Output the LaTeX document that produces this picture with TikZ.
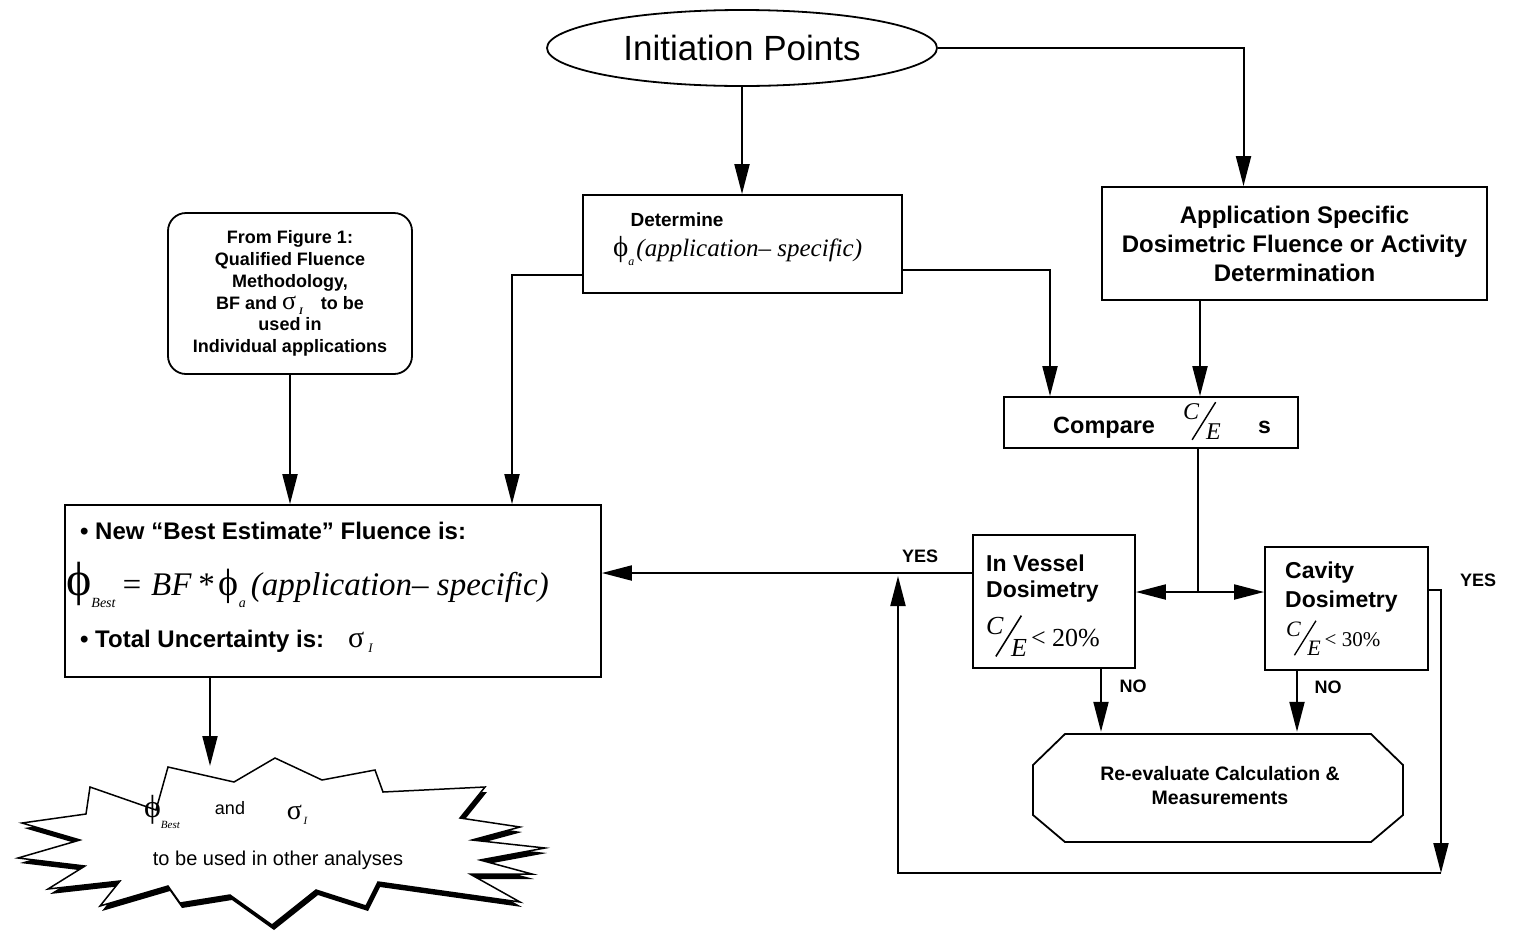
\documentclass[tikz,border=0pt]{standalone}
\usepackage{fontspec}
\setmainfont{Liberation Sans}
\newfontfamily\serif{Liberation Serif}
\usetikzlibrary{arrows.meta,shapes.geometric,calc}
\newcommand{\fs}[1]{\fontsize{#1}{#1}\selectfont}
\newcommand{\fsb}[2]{\fontsize{#1}{#2}\selectfont}
\newcommand{\CEfrac}[1]{{\serif\itshape\fs{#1}\raisebox{0.45em}{C}\kern-0.32em\raisebox{-0.4em}{\rotatebox{58}{\rule{1.85em}{0.06em}}}\kern-0.42em\raisebox{-0.38em}{E}}}
\newcommand{\phis}{{\serif\upshape ϕ}}
\begin{document}
\begin{tikzpicture}[x=1pt,y=-1pt,
  box/.style={draw,line width=1.8pt,inner sep=0pt},
  txt/.style={inner sep=0pt,font=\bfseries\fs{23}},
  lbl/.style={inner sep=0pt,font=\bfseries\fs{18}},
  arr/.style={line width=2pt,-{Triangle[length=30pt,width=15pt]}},
  ln/.style={line width=2pt}]
\useasboundingbox (0,0) rectangle (1513,930);

% ---- nodes ----
\node[box,ellipse,minimum width=390pt,minimum height=76pt,font=\fs{35}] (init) at (742,48) {Initiation Points};

\node[box,minimum width=319pt,minimum height=98pt] (det) at (742.5,244) {};
\node[txt,font=\bfseries\fs{19}] (detT) at (677,220) {Determine};
\node[inner sep=0pt,anchor=west] (detF) at (613,251) {{\fs{29}\phis}{\serif\itshape\fs{12}\raisebox{-0.7em}{a}}\kern2pt{\serif\itshape\fs{25}(application– specific)}};

\node[box,minimum width=385pt,minimum height=113pt,align=center,font=\bfseries\fsb{24}{29}] (app) at (1294.5,243.5)
  {Application Specific\\Dosimetric Fluence or Activity\\Determination};

\node[box,rounded corners=18pt,minimum width=244pt,minimum height=161pt,align=center,font=\bfseries\fsb{18}{21.8}] (fig) at (290,293.5)
  {From Figure 1:\\Qualified Fluence\\Methodology,\\BF and {\mdseries\serif\fs{26}σ}\,{\serif\itshape\fs{10}\raisebox{-0.5em}{I}}\quad to be\\used in\\Individual applications};

\node[box,minimum width=294pt,minimum height=51pt] (cmp) at (1151,422.5) {};
\node[txt,anchor=west,font=\bfseries\fs{23.5}] (cmpT) at (1053,428) {Compare};
\node[inner sep=0pt] (cmpF) at (1202,421) {\CEfrac{24}};
\node[txt,anchor=west] (cmpS) at (1258,427) {s};

\node[box,minimum width=536pt,minimum height=172pt] (best) at (333,591) {};
\node[txt,anchor=west,font=\bfseries\fs{24}] (b1) at (80,531) {• New “Best Estimate” Fluence is:};
\node[inner sep=0pt,anchor=west] (b2) at (66,585) {{\fs{48}\phis}{\serif\itshape\fs{14}\raisebox{-0.9em}{Best}}\kern5pt{\serif\itshape\fs{33}= BF\,*\,}{\fs{38}\phis}{\serif\itshape\fs{14}\raisebox{-0.9em}{a}}\kern5pt{\serif\itshape\fs{33}(application– specific)}};
\node[txt,anchor=west,font=\bfseries\fs{24}] (b3) at (80,641) {• Total Uncertainty is:\quad{\mdseries\serif\fs{30}σ}\,{\serif\itshape\mdseries\fs{13}\raisebox{-0.4em}{I}}};

\node[box,minimum width=162pt,minimum height=133pt] (ves) at (1054,601.5) {};
\node[txt,anchor=west] (v1) at (986,563) {In Vessel};
\node[txt,anchor=west] (v2) at (986,592) {Dosimetry};
\node[inner sep=0pt,anchor=west] (v3) at (986,636) {\CEfrac{26}\kern4pt{\serif\fs{26}< 20\%}};

\node[box,minimum width=163pt,minimum height=123pt] (cav) at (1346.5,608.5) {};
\node[txt,anchor=west] (c1) at (1285,573) {Cavity};
\node[txt,anchor=west] (c2) at (1285,602) {Dosimetry};
\node[inner sep=0pt,anchor=west] (c3) at (1286,638) {\CEfrac{22}\kern4pt{\serif\fs{21}< 30\%}};

% re-evaluate octagon
\draw[line width=1.8pt] (1065,734) -- (1371,734) -- (1403,765) -- (1403,815) -- (1371,842)
  -- (1065,842) -- (1033,815) -- (1033,765) -- cycle;
\node[inner sep=0pt,minimum width=370pt,minimum height=108pt,align=center,font=\bfseries\fsb{19.5}{24}] (reev) at (1220,786)
  {Re-evaluate Calculation \&\\Measurements};

% starburst
\def\burst{(168,767) -- (234,782) -- (275,758) -- (322,780) -- (375,770) -- (383,792) -- (485,787)
  -- (460,818) -- (520,827) -- (472,840) -- (545,848) -- (480,860) -- (532,874) -- (470,874)
  -- (520,902) -- (378,882) -- (366,906) -- (316,890) -- (272,925) -- (230,895) -- (180,903)
  -- (168,886) -- (100,906) -- (120,881) -- (48,889) -- (85,866) -- (18,858) -- (80,840)
  -- (22,823) -- (86,814) -- (90,787) -- (156,810) -- cycle}
\fill[black,shift={(2,5)}] \burst;
\filldraw[fill=white,line width=1.5pt] \burst;
\coordinate (bursttop) at (210,766);
\node[inner sep=0pt] (bphi) at (162,812) {{\fs{32}\phis}{\serif\itshape\fs{11}\raisebox{-1em}{Best}}};
\node[inner sep=0pt,font=\fs{18}] (band) at (230,808) {and};
\node[inner sep=0pt] (bsig) at (297,815) {{\serif\fs{28}σ}\,{\serif\itshape\fs{11}\raisebox{-0.4em}{I}}};
\node[inner sep=0pt,font=\fs{20}] (buse) at (278,860) {to be used in other analyses};

% ---- connectors ----
\draw[arr] (init.south) -- (init.south |- det.north);
\draw[arr] (init.east) -| ([xshift=-51pt]app.north);
\draw[arr] ([yshift=-26pt]det.east) -| ([xshift=-101pt]cmp.north);
\draw[arr] ([xshift=-94.5pt]app.south) -- ([xshift=-94.5pt]app.south |- cmp.north);
\draw[arr] ([yshift=-31pt]det.west) -| ([xshift=179pt]best.north);
\draw[arr] (fig.south) -- (fig.south |- best.north);

\coordinate (split) at ([xshift=47pt]cmp.south |- 0,592);
\draw[ln] ([xshift=47pt]cmp.south) -- (split);
\draw[arr] (split) -- (split -| ves.east);
\draw[arr] (split) -- (split -| cav.west);

\draw[arr] ([yshift=28.5pt]ves.west) -- ([yshift=28.5pt]ves.west -| best.east);
\node[lbl] (yes1) at (920,556) {YES};

\coordinate (loopR) at (1441,873);
\coordinate (loopL) at (898,873);
\coordinate (yesjoin) at (898,576);
\draw[arr] ([yshift=18.5pt]cav.east) -| (loopR);
\draw[arr] (loopR) -- (loopL) -- (yesjoin);
\node[lbl] (yes2) at (1478,580) {YES};

\draw[arr] ([xshift=47pt]ves.south) -- ([xshift=47pt]ves.south |- reev.north);
\draw[arr] ([xshift=-49.5pt]cav.south) -- ([xshift=-49.5pt]cav.south |- reev.north);
\node[lbl] (no1) at (1133,686) {NO};
\node[lbl] (no2) at (1328,687) {NO};

\draw[arr] ([xshift=-123pt]best.south) -- ([xshift=-123pt]best.south |- bursttop);
\end{tikzpicture}
\end{document}
